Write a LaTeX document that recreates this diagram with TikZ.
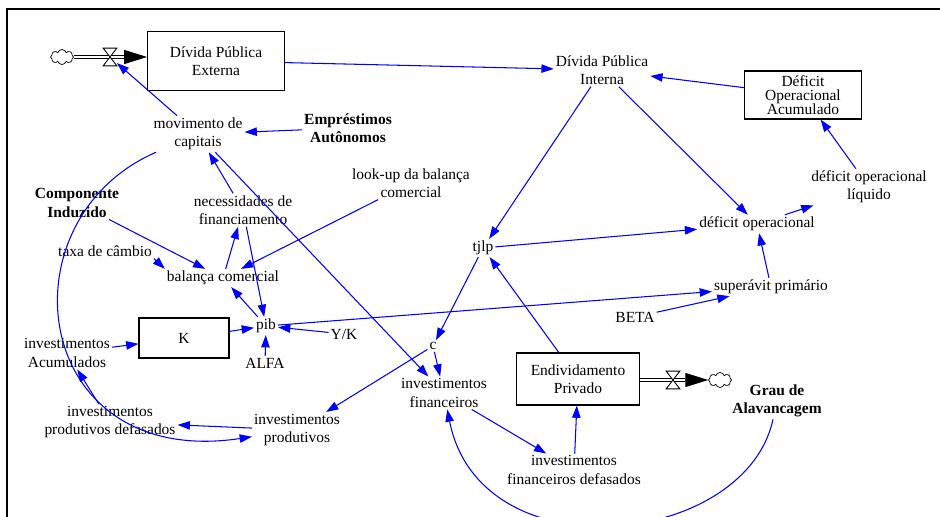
\documentclass[tikz,border=0pt]{standalone}
\usepackage{fontspec}
\setmainfont{Liberation Serif}
\usetikzlibrary{arrows.meta,shapes.symbols}

\begin{document}
\begin{tikzpicture}[x=0.02cm,y=-0.02cm,font=\fontsize{8.8}{10.4}\selectfont]
					\tikzset{>={Triangle[length=7pt,width=4.8pt]}}
					\tikzset{var/.style={align=center,inner sep=1pt}}
					\tikzset{bvar/.style={var,font=\fontsize{8.8}{10.4}\selectfont\bfseries}}
					\tikzset{stock/.style={draw,line width=0.6pt,align=center,inner sep=1pt}}
					\tikzset{link/.style={->,blue,line width=0.6pt}}
					\tikzset{pipe/.style={double,double distance=1.2pt,line width=0.5pt}}
					\tikzset{flowtip/.style={-{Triangle[length=13pt,width=8pt]},line width=0.5pt}}
					\tikzset{valvebox/.style={minimum width=0.26cm,minimum height=0.34cm,inner sep=0pt}}
					\tikzset{cloudy/.style={cloud,draw,cloud puffs=8,aspect=1.6,minimum width=0.46cm,minimum height=0.3cm,inner sep=0pt,fill=white}}
					\useasboundingbox (0,0) rectangle (940,517);
					\draw[line width=1pt] (7,530) -- (7,9) -- (950,9);
					\node[stock,minimum width=2.74cm,minimum height=1.18cm] (ext) at (216,61) {Dívida Pública\\Externa};
					\node[stock,minimum width=1.8cm,minimum height=0.8cm] (K) at (184,338) {K};
					\node[stock,minimum width=2.46cm,minimum height=1.04cm] (endiv) at (578,379) {Endividamento\\Privado};
					\node[stock,minimum width=2.34cm,minimum height=0.96cm] (doa) at (803,95) {Déficit\\[-2.4pt]Operacional\\[-2.4pt]Acumulado};
					\node[var] (dpi) at (602,70) {Dívida Pública\\Interna};
					\node[var] (mov) at (198,134) {movimento de\\capitais};
					\node[bvar] (emp) at (348,128) {Empréstimos\\Autônomos};
					\node[bvar] (comp) at (77,203) {Componente\\Induzido};
					\node[var] (nec) at (243,210) {necessidades de\\financiamento};
					\node[var] (look) at (411,183) {look-up da balança\\comercial};
					\node[var] (taxa) at (105,251) {taxa de câmbio};
					\node[var] (bal) at (223,278) {balança comercial};
					\node[var] (pib) at (266,326) {pib};
					\node[var] (yk) at (344,334) {Y/K};
					\node[var] (alfa) at (265,363) {ALFA};
					\node[var] (iacum) at (67,353) {investimentos\\Acumulados};
					\node[var] (iprodef) at (110,422) {investimentos\\produtivos defasados};
					\node[var] (iprod) at (297,430) {investimentos\\produtivos};
					\node[var] (c) at (433,346) {c};
					\node[var] (ifin) at (444,393) {investimentos\\financeiros};
					\node[var] (ifdef) at (574,470) {investimentos\\financeiros defasados};
					\node[bvar] (grau) at (777,401) {Grau de\\Alavancagem};
					\node[var] (tjlp) at (483,248) {tjlp};
					\node[var] (defop) at (757,224) {déficit operacional};
					\node[var] (defliq) at (869,187) {déficit operacional\\líquido};
					\node[var] (sup) at (771,287) {superávit primário};
					\node[var] (beta) at (635,317) {BETA};
					\node[cloudy] (cldL) at (62,57) {};
					\node[valvebox] (vL) at (110,57) {};
					\coordinate (tipL) at (125,57);
					\draw[pipe] (cldL) -- (tipL);
					\draw[flowtip] (tipL) -- (ext.west |- tipL);
					\draw[fill=white,line width=0.5pt] (vL.north west) -- (vL.north east) -- (vL.south west) -- (vL.south east) -- cycle;
					\node[cloudy] (cldR) at (720,380) {};
					\node[valvebox] (vR) at (673,380) {};
					\coordinate (tipR) at (685,380);
					\draw[pipe] (endiv.east |- tipR) -- (tipR);
					\draw[flowtip] (tipR) -- (cldR);
					\draw[fill=white,line width=0.5pt] (vR.north west) -- (vR.north east) -- (vR.south west) -- (vR.south east) -- cycle;
					\draw[link] (mov) -- (vL);
					\draw[link] (emp) -- (mov);
					\draw[link] (nec) -- (mov);
					\draw[link] (mov) -- (ifin);
					\draw[link] (comp) -- (bal);
					\draw[link] (taxa.south east) -- (bal.north west);
					\draw[link] (look) -- (bal);
					\draw[link] (bal) -- (nec);
					\draw[link] (nec) -- (pib);
					\draw[link] (pib) -- (bal);
					\draw[link] (K) -- (pib);
					\draw[link] (yk) -- (pib);
					\draw[link] (alfa) -- (pib);
					\draw[link] (iacum) -- (K);
					\draw[link] (iprodef) -- (iacum);
					\draw[link] (iprod) -- (iprodef);
					\draw[link] (mov) .. controls (0,220) and (30,470) .. (iprod);
					\draw[link] (c) -- (iprod);
					\draw[link] (c) -- (ifin);
					\draw[link] (tjlp) -- (c);
					\draw[link] (dpi) -- (tjlp);
					\draw[link] (dpi) -- (defop);
					\draw[link] (tjlp) -- (defop);
					\draw[link] (doa) -- (dpi);
					\draw[link] (ext) -- (dpi);
					\draw[link] (defop) -- (defliq);
					\draw[link] (defliq) -- (doa);
					\draw[link] (sup) -- (defop);
					\draw[link] (beta) -- (sup);
					\draw[link] (pib) -- (sup);
					\draw[link] (endiv) -- (tjlp);
					\draw[link] (ifin) -- (ifdef);
					\draw[link] (ifdef) -- (endiv);
					\draw[link] (grau) .. controls (745,548) and (480,575) .. (ifin);
				\end{tikzpicture}
\end{document}
